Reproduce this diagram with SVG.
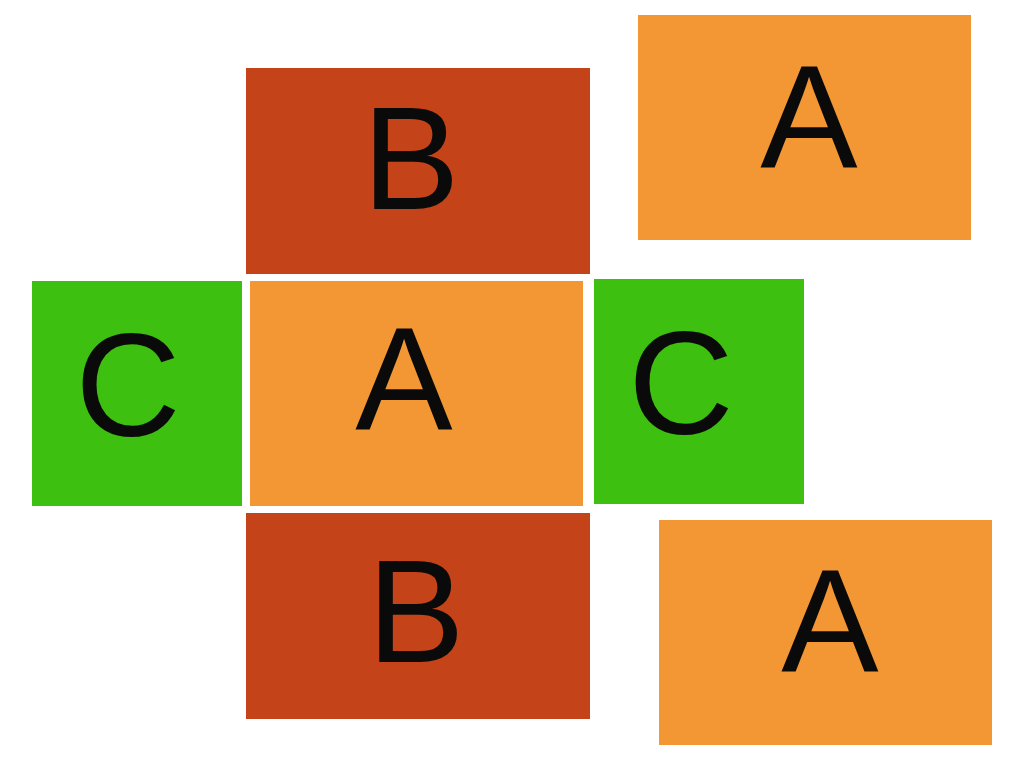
<svg xmlns="http://www.w3.org/2000/svg" width="1024" height="768" viewBox="0 0 1024 768">
<style>
.a{fill:#F29734}.b{fill:#C44318}.c{fill:#3DC00F}
text{font-family:"Liberation Sans",Arial,sans-serif;font-size:146px;fill:#0a0a0a;text-anchor:middle}
</style>
<rect width="1024" height="768" fill="#fff"/>
<g id="b-top"><rect class="b" x="246" y="68" width="344" height="206"/><text x="411" y="209">B</text></g>
<g id="a-top-right"><rect class="a" x="638" y="15" width="333" height="225"/><text x="809" y="168">A</text></g>
<g id="c-left"><rect class="c" x="32" y="281" width="210" height="225"/><text x="128" y="436">C</text></g>
<g id="a-center"><rect class="a" x="250" y="281" width="333" height="225"/><text x="404" y="430">A</text></g>
<g id="c-right"><rect class="c" x="594" y="279" width="210" height="225"/><text x="681" y="434">C</text></g>
<g id="b-bottom"><rect class="b" x="246" y="513" width="344" height="206"/><text x="416" y="662">B</text></g>
<g id="a-bottom-right"><rect class="a" x="659" y="520" width="333" height="225"/><text x="830" y="672">A</text></g>
<g id="connectors"></g>
</svg>
